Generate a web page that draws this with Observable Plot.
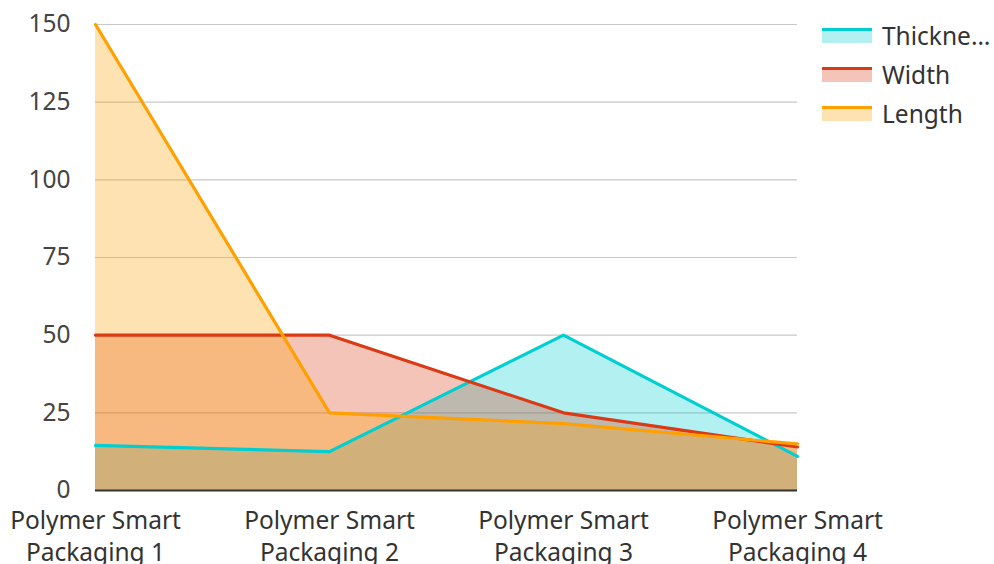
<!DOCTYPE html>
<html>
<head>
<meta charset="utf-8">
<script src="https://cdn.jsdelivr.net/npm/d3@7"></script>
<script src="https://cdn.jsdelivr.net/npm/@observablehq/plot@0.6"></script>
<style>
  html, body { margin: 0; padding: 0; background: #fff; }
  body { width: 994px; height: 564px; overflow: hidden; position: relative; font-family: "Noto Sans", sans-serif; }
  #legend { position: absolute; left: 822px; top: 16px; }
  .item { display: flex; align-items: center; height: 39px; }
  .sw { width: 50px; height: 15px; position: relative; margin-right: 10px; }
  .sw .ln { position: absolute; left: 0; top: 0; width: 50px; height: 3px; }
  .sw .fl { position: absolute; left: 0; top: 3px; width: 50px; height: 12px; }
  .lab { font-size: 24.5px; color: #333; }
</style>
</head>
<body>
<div id="chart"></div>
<div id="legend"></div>
<script>
const categories = ["Polymer Smart\nPackaging 1", "Polymer Smart\nPackaging 2", "Polymer Smart\nPackaging 3", "Polymer Smart\nPackaging 4"];
const seriesNames = ["Thickness", "Width", "Length"];
const legendLabels = ["Thickne…", "Width", "Length"];
const thickness = [14.5, 12.5, 50, 11];
const width = [50, 50, 25, 14];
const length = [150, 25, 21.5, 15];
const colors = ["#00CED1", "#DA3A14", "#FFA000"];
const yTicks = [0, 25, 50, 75, 100, 125, 150];

const values = [thickness, width, length];
const data = [];
seriesNames.forEach((s, i) => categories.forEach((c, j) => data.push({series: s, cat: c, value: values[i][j]})));

const chart = Plot.plot({
  width: 994,
  height: 564,
  marginLeft: 95,
  marginRight: 197,
  marginTop: 24,
  marginBottom: 74,
  style: {fontFamily: "Noto Sans, sans-serif", fontSize: "24px", background: "#fff"},
  x: {type: "point", domain: categories, padding: 0, axis: null},
  y: {domain: [0, 150], axis: null},
  color: {domain: seriesNames, range: colors},
  marks: [
    Plot.ruleY(yTicks.filter(d => d > 0), {stroke: "#c8c8c8", strokeWidth: 1.2}),
    Plot.text(yTicks, {x: () => categories[0], y: d => d, text: d => String(d), dx: -25, textAnchor: "end", fill: "#444", fontSize: 24.5}),
    ...seriesNames.map((s, i) => Plot.areaY(data.filter(d => d.series === s), {x: "cat", y: "value", fill: colors[i], fillOpacity: 0.3})),
    ...seriesNames.map((s, i) => Plot.lineY(data.filter(d => d.series === s), {x: "cat", y: "value", stroke: colors[i], strokeWidth: 3.2})),
    Plot.ruleY([0], {stroke: "#333", strokeWidth: 2}),
    Plot.text(categories, {x: d => d, y: 0, text: d => d, dy: 44, lineHeight: 1.31, fill: "#333", fontSize: 24.5})
  ]
});
document.getElementById("chart").appendChild(chart);

const legend = document.getElementById("legend");
seriesNames.forEach((s, i) => {
  const item = document.createElement("div");
  item.className = "item";
  item.innerHTML = `<div class="sw"><div class="ln" style="background:${colors[i]}"></div><div class="fl" style="background:${colors[i]};opacity:0.3"></div></div><div class="lab">${legendLabels[i]}</div>`;
  legend.appendChild(item);
});
</script>
</body>
</html>
